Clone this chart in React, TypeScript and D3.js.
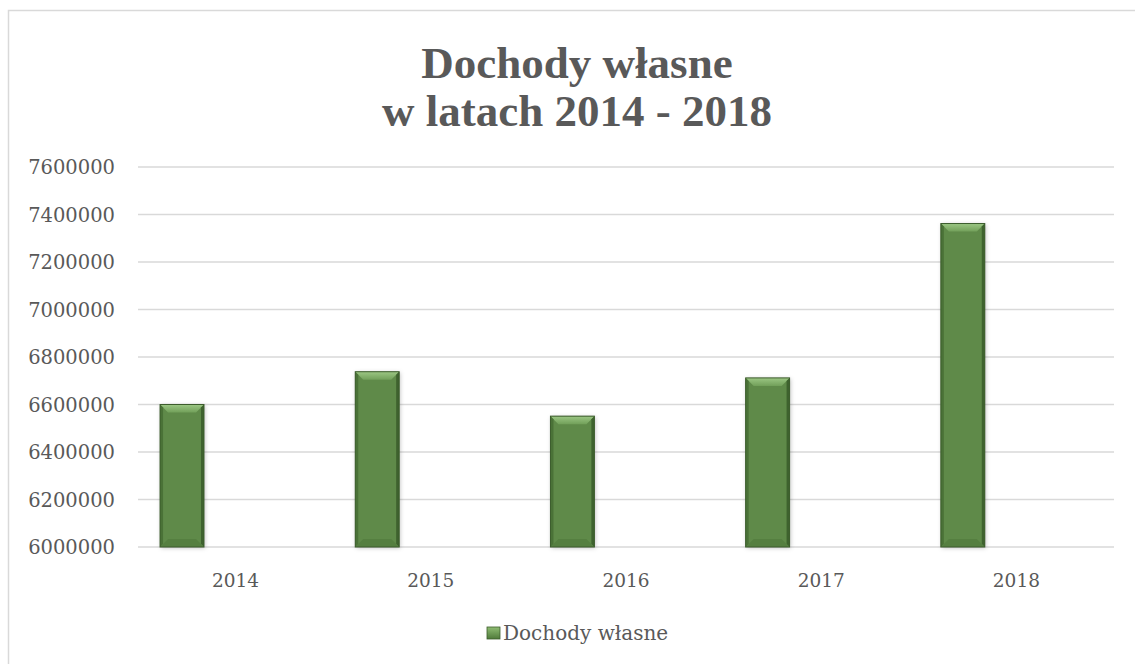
import React from 'react';
import * as d3 from 'd3';

const years = ['2014', '2015', '2016', '2017', '2018'];
const values = [6600000, 6738000, 6551000, 6712000, 7362000];
const yTicks = [6000000, 6200000, 6400000, 6600000, 6800000, 7000000, 7200000, 7400000, 7600000];
const titleLines = ['Dochody własne', 'w latach 2014 - 2018'];
const seriesName = 'Dochody własne';

const W = 1135;
const H = 664;
const FONT = '"DejaVu Serif", "Liberation Serif", serif';
const TFONT = '"Liberation Serif", "DejaVu Serif", serif';
const TXT = '#595959';

export default function App() {
  const x = d3.scaleBand<string>().domain(years).range([138, 1114]).paddingInner(0).paddingOuter(0);
  const y = d3.scaleLinear().domain([6000000, 7600000]).range([547, 167]);
  const bw = x.bandwidth();
  const barW = bw * 0.225;
  const barOff = bw * 0.113;
  const bev = 8;

  return (
    <svg width={W} height={H} style={{ position: 'absolute', left: 0, top: 0, background: '#fff' }}>
      <defs>
        <filter id="sh" x="-30%" y="-10%" width="160%" height="130%">
          <feDropShadow dx="1" dy="1" stdDeviation="2" floodColor="#000" floodOpacity="0.25" />
        </filter>
        <linearGradient id="legG" x1="0" y1="0" x2="0" y2="1">
          <stop offset="0" stopColor="#8fbd73" />
          <stop offset="1" stopColor="#4f7a3a" />
        </linearGradient>
        <linearGradient id="topBev" x1="0" y1="0" x2="0" y2="1">
          <stop offset="0" stopColor="#9cc784" />
          <stop offset="1" stopColor="#72a05a" />
        </linearGradient>
      </defs>
      <rect x={8.5} y={10.5} width={1140} height={670} fill="#fff" stroke="#d9d9d9" strokeWidth={1.5} />
      {titleLines.map((t, i) => (
        <text key={i} x={577} y={78 + i * 48} textAnchor="middle" fontFamily={TFONT} fontWeight="bold" fontSize={45} fill={TXT}>
          {t}
        </text>
      ))}
      {yTicks.map((v) => (
        <g key={v}>
          <line x1={138} x2={1114} y1={y(v)} y2={y(v)} stroke="#d9d9d9" strokeWidth={1.5} />
          <text x={115} y={y(v) + 7} textAnchor="end" fontFamily={FONT} fontSize={19.5} fill={TXT}>
            {v}
          </text>
        </g>
      ))}
      {years.map((yr, i) => {
        const x0 = (x(yr) as number) + barOff;
        const top = y(values[i]);
        const bot = y(6000000);
        const x1 = x0 + barW;
        return (
          <g key={yr}>
            <rect x={x0} y={top} width={barW} height={bot - top} fill="#5f8a4a" filter="url(#sh)" />
            <polygon points={`${x0},${top} ${x1},${top} ${x1 - bev},${top + bev} ${x0 + bev},${top + bev}`} fill="url(#topBev)" />
            <polygon points={`${x0},${top} ${x0 + 3},${top + 3} ${x0 + 3},${bot - 3} ${x0},${bot}`} fill="#4a7237" />
            <polygon points={`${x1},${top} ${x1 - 3},${top + 3} ${x1 - 3},${bot - 3} ${x1},${bot}`} fill="#3e622e" />
            <polygon points={`${x0},${bot} ${x1},${bot} ${x1 - bev},${bot - bev} ${x0 + bev},${bot - bev}`} fill="#557f40" />
            <rect x={x0} y={top} width={barW} height={bot - top} fill="none" stroke="#3c5c2c" strokeWidth={1} />
          </g>
        );
      })}
      {years.map((yr) => (
        <text key={yr} x={(x(yr) as number) + bw / 2} y={587} textAnchor="middle" fontFamily={FONT} fontSize={18.5} fill={TXT}>
          {yr}
        </text>
      ))}
      <rect x={487} y={627} width={13} height={12} fill="url(#legG)" stroke="#3c5c2c" strokeWidth={0.8} />
      <text x={503} y={640} fontFamily={FONT} fontSize={20} fill={TXT}>
        {seriesName}
      </text>
    </svg>
  );
}
